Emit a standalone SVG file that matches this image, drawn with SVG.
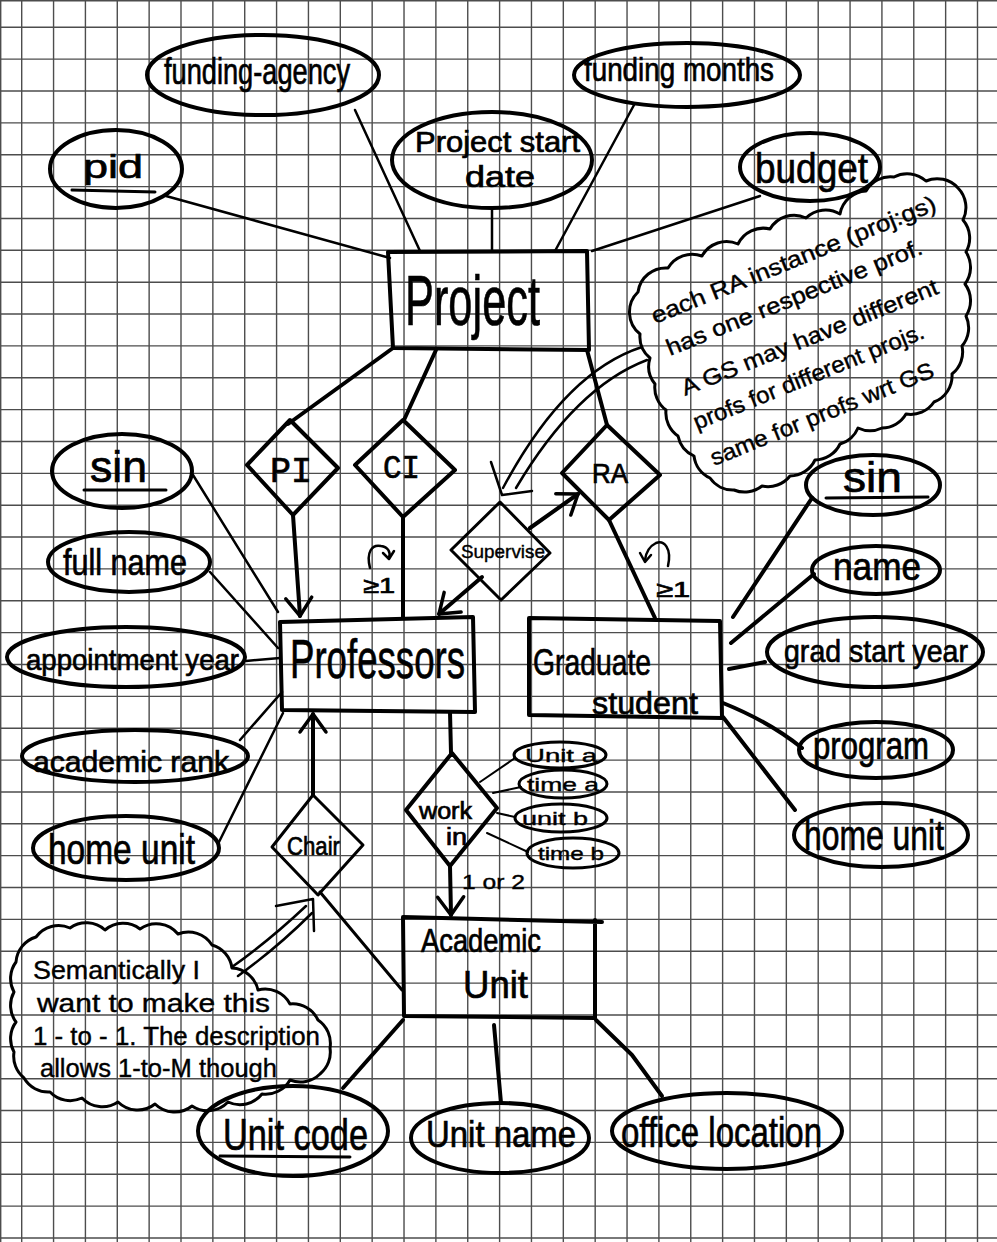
<svg xmlns="http://www.w3.org/2000/svg" width="997" height="1242" viewBox="0 0 997 1242">
<style>
.grid{stroke:#4d4d4d;stroke-width:1.4;fill:none}
.sh{fill:none;stroke:#000;stroke-width:4;stroke-linejoin:round;stroke-linecap:round}
.sm{fill:none;stroke:#000;stroke-width:3;stroke-linejoin:round;stroke-linecap:round}
.ln{fill:none;stroke:#000;stroke-width:4;stroke-linecap:round;stroke-linejoin:round}
.ln2{fill:none;stroke:#000;stroke-width:2.5;stroke-linecap:round;stroke-linejoin:round}
.ln1{fill:none;stroke:#000;stroke-width:2;stroke-linecap:round}
text{font-family:"Liberation Sans",Arial,sans-serif;fill:#000;stroke:#000;stroke-width:0.7}
.mono{font-family:"Liberation Mono","Courier New",monospace}
.thin{stroke-width:0.4}
</style>
<defs>
<marker id="arr" viewBox="-22 -16 26 32" refX="0" refY="0" markerWidth="26" markerHeight="32" markerUnits="userSpaceOnUse" orient="auto">
<path d="M-18,-13 L0,0 L-18,13" fill="none" stroke="#000" stroke-width="3.5" stroke-linecap="round" stroke-linejoin="round"/>
</marker>
</defs>
<rect width="997" height="1242" fill="#fff"/>
<g id="grid" class="grid">
<path d="M0.7 0V1242M21.7 0V1242M53.56 0V1242M85.42 0V1242M117.28 0V1242M149.14 0V1242M181 0V1242M212.86 0V1242M244.72 0V1242M276.58 0V1242M308.44 0V1242M340.3 0V1242M372.16 0V1242M404.02 0V1242M435.88 0V1242M467.74 0V1242M499.6 0V1242M531.46 0V1242M563.32 0V1242M595.18 0V1242M627.04 0V1242M658.9 0V1242M690.76 0V1242M722.62 0V1242M754.48 0V1242M786.34 0V1242M818.2 0V1242M850.06 0V1242M881.92 0V1242M913.78 0V1242M945.64 0V1242M977.5 0V1242"/>
<path d="M0 0.7H997M0 27.3H997M0 59.16H997M0 91.02H997M0 122.88H997M0 154.74H997M0 186.6H997M0 218.46H997M0 250.32H997M0 282.18H997M0 314.04H997M0 345.9H997M0 377.76H997M0 409.62H997M0 441.48H997M0 473.34H997M0 505.2H997M0 537.06H997M0 568.92H997M0 600.78H997M0 632.64H997M0 664.5H997M0 696.36H997M0 728.22H997M0 760.08H997M0 791.94H997M0 823.8H997M0 855.66H997M0 887.52H997M0 919.38H997M0 951.24H997M0 983.1H997M0 1014.96H997M0 1046.82H997M0 1078.68H997M0 1110.54H997M0 1142.4H997M0 1174.26H997M0 1206.12H997M0 1237.98H997"/>
</g>

<g id="connectors">
<path class="ln2" d="M166,196 L390,258"/>
<path class="ln2" d="M355,110 L420,251"/>
<path class="ln2" d="M492,208 L492,251"/>
<path class="ln2" d="M634,105 L555,251"/>
<path class="ln2" d="M760,196 L592,251"/>
<path class="ln" d="M393,348 L288,424"/>
<path class="ln" d="M436,350 L404,420"/>
<path class="ln" d="M587,350 L607,425"/>
<path class="ln" d="M293,515 L300,616" marker-end="url(#arr)"/>
<path class="ln" d="M403,517 L403,618"/>
<path class="ln" d="M609,520 L655,618"/>
<path class="ln" d="M530,528 L578,494" marker-end="url(#arr)"/>
<path class="ln" d="M482,577 L439,614" marker-end="url(#arr)"/>
<path class="ln2" d="M193,475 L278,612"/>
<path class="ln2" d="M210,572 L278,648"/>
<path class="ln2" d="M246,661 L280,658"/>
<path class="ln2" d="M240,740 L282,692"/>
<path class="ln2" d="M219,842 L283,713"/>
<path class="ln" d="M450,712 L451,753"/>
<path class="ln" d="M450,866 L451,915" marker-end="url(#arr)"/>
<path class="ln" d="M313,795 L313,714" marker-end="url(#arr)"/>
<path class="sm" d="M320,892 L402,990"/>
<path class="ln1" d="M480,782 L515,758"/>
<path class="ln1" d="M493,793 L521,787"/>
<path class="ln1" d="M497,813 L515,817"/>
<path class="ln1" d="M487,833 L528,852"/>
<path class="ln" d="M733,617 L812,498"/>
<path class="ln" d="M731,643 L814,574"/>
<path class="ln" d="M729,669 L765,662"/>
<path class="ln" d="M723,703 Q770,722 802,748"/>
<path class="ln" d="M723,717 L795,810"/>
<path class="ln" d="M403,1020 L343,1088"/>
<path class="ln" d="M494,1025 L501,1103"/>
<path class="ln" d="M596,1020 L632,1055 L662,1096"/>
<path class="ln2" d="M642,347 Q565,372 503,488"/>
<path class="ln2" d="M647,360 Q576,387 516,488"/>
<path class="ln2" d="M491,462 L502,495 L532,491"/>
<path class="ln2" d="M232,967 Q270,940 306,906"/>
<path class="ln2" d="M238,976 Q278,947 312,913"/>
<path class="ln2" d="M276,906 L313,899 L314,931"/>
</g>

<g id="project"><path class="sh" d="M388,252 L587,251 L589,350 L393,348 Z"/><text x="405" y="325" font-size="70" textLength="135" lengthAdjust="spacingAndGlyphs">Project</text></g>
<g id="professors"><path class="sh" d="M280,622 L473,617 L475,712 L282,710 Z"/><text x="290" y="678" font-size="56" textLength="175" lengthAdjust="spacingAndGlyphs">Professors</text></g>
<g id="graduate-student"><path class="sh" d="M529,618 L720,621 L722,718 L529,715 Z"/><text x="533" y="675" font-size="37" textLength="118" lengthAdjust="spacingAndGlyphs">Graduate</text><text x="592" y="714" font-size="32" textLength="106" lengthAdjust="spacingAndGlyphs">student</text></g>
<g id="academic-unit"><path class="sh" d="M403,917 L602,922 M595,920 L595,1018 L404,1016 L403,917"/><text x="421" y="952" font-size="34" textLength="120" lengthAdjust="spacingAndGlyphs">Academic</text><text x="463" y="998" font-size="39" textLength="65" lengthAdjust="spacingAndGlyphs">Unit</text></g>

<g id="attr-funding-agency"><ellipse class="sh" cx="263" cy="75" rx="116" ry="40"/><text x="164" y="84" font-size="36" textLength="186" lengthAdjust="spacingAndGlyphs">funding-agency</text></g>
<g id="attr-pid"><ellipse class="sh" cx="116" cy="169" rx="66" ry="39"/><text x="83" y="178" font-size="34" textLength="60" lengthAdjust="spacingAndGlyphs">pid</text><path class="sm" d="M72,190 L155,192"/></g>
<g id="attr-project-start-date"><ellipse class="sh" cx="492" cy="160" rx="100" ry="48"/><text x="415" y="152" font-size="29" textLength="165" lengthAdjust="spacingAndGlyphs">Project start</text><text x="465" y="187" font-size="29" textLength="70" lengthAdjust="spacingAndGlyphs">date</text></g>
<g id="attr-funding-months"><ellipse class="sh" cx="687" cy="75" rx="113" ry="32"/><text x="584" y="81" font-size="34" textLength="190" lengthAdjust="spacingAndGlyphs">funding months</text></g>
<g id="attr-budget"><ellipse class="sh" cx="810" cy="167" rx="70" ry="34"/><text x="755" y="183" font-size="42" textLength="113" lengthAdjust="spacingAndGlyphs">budget</text></g>

<g id="rel-pi"><path class="sh" d="M247,465 L290,420 L338,468 L293,515 Z"/><text class="mono" x="270" y="482" font-size="36" textLength="42" lengthAdjust="spacingAndGlyphs">PI</text></g>
<g id="rel-ci"><path class="sh" d="M355,465 L403,420 L455,470 L403,517 Z"/><text class="mono" x="383" y="478" font-size="34" textLength="37" lengthAdjust="spacingAndGlyphs">CI</text>
<path class="ln2" d="M370,568 C366,552 372,544 381,546 C388,547 391,552 389,558"/><path class="ln2" d="M383,553 L389,559 L394,551"/>
<text x="363" y="593" font-size="22" textLength="32" lengthAdjust="spacingAndGlyphs">≥1</text></g>
<g id="rel-ra"><path class="sh" d="M562,473 L607,425 L660,475 L609,520 Z"/><text x="592" y="483" font-size="28" textLength="36" lengthAdjust="spacingAndGlyphs">RA</text>
<path class="ln2" d="M668,566 C672,548 664,540 656,543 C650,546 646,552 645,560"/><path class="ln2" d="M640,553 L645,562 L651,555"/>
<text x="656" y="597" font-size="22" textLength="34" lengthAdjust="spacingAndGlyphs">≥1</text></g>
<g id="rel-supervise"><path class="sm" d="M451,550 L500,502 L550,553 L501,600 Z"/><text class="thin" x="461" y="558" font-size="19" textLength="84" lengthAdjust="spacingAndGlyphs">Supervise</text></g>
<g id="rel-chair"><path class="sm" d="M272,847 L313,795 L363,845 L318,895 Z"/><text x="287" y="855" font-size="26" textLength="53" lengthAdjust="spacingAndGlyphs">Chair</text></g>
<g id="rel-work-in"><path class="sh" d="M406,810 L452,753 L497,808 L450,866 Z"/><text x="419" y="819" font-size="23" textLength="53" lengthAdjust="spacingAndGlyphs">work</text><text x="446" y="845" font-size="23" textLength="21" lengthAdjust="spacingAndGlyphs">in</text>
<text class="thin" x="462" y="889" font-size="21" textLength="63" lengthAdjust="spacingAndGlyphs">1 or 2</text></g>

<g id="attr-prof-sin"><ellipse class="sh" cx="122" cy="471" rx="70" ry="37"/><text x="90" y="482" font-size="44" textLength="57" lengthAdjust="spacingAndGlyphs">sin</text><path class="sm" d="M84,490 L166,490"/></g>
<g id="attr-full-name"><ellipse class="sh" cx="129" cy="562" rx="81" ry="30"/><text x="63" y="575" font-size="36" textLength="124" lengthAdjust="spacingAndGlyphs">full name</text></g>
<g id="attr-appointment-year"><ellipse class="sh" cx="126" cy="657" rx="119" ry="30"/><text x="26" y="670" font-size="29" textLength="213" lengthAdjust="spacingAndGlyphs">appointment year</text></g>
<g id="attr-academic-rank"><ellipse class="sh" cx="135" cy="756" rx="113" ry="26"/><text x="33" y="772" font-size="30" textLength="196" lengthAdjust="spacingAndGlyphs">academic rank</text></g>
<g id="attr-prof-home-unit"><ellipse class="sh" cx="126" cy="848" rx="93" ry="32"/><text x="48" y="864" font-size="42" textLength="147" lengthAdjust="spacingAndGlyphs">home unit</text></g>

<g id="attr-gs-sin"><ellipse class="sh" cx="873" cy="485" rx="67" ry="30"/><text x="843" y="492" font-size="42" textLength="59" lengthAdjust="spacingAndGlyphs">sin</text><path class="sm" d="M826,498 L928,497"/></g>
<g id="attr-name"><ellipse class="sh" cx="876" cy="570" rx="64" ry="24"/><text x="833" y="580" font-size="38" textLength="88" lengthAdjust="spacingAndGlyphs">name</text></g>
<g id="attr-grad-start-year"><ellipse class="sh" cx="875" cy="652" rx="108" ry="35"/><text x="784" y="662" font-size="32" textLength="184" lengthAdjust="spacingAndGlyphs">grad start year</text></g>
<g id="attr-program"><ellipse class="sh" cx="876" cy="750" rx="77" ry="28"/><text x="813" y="759" font-size="38" textLength="116" lengthAdjust="spacingAndGlyphs">program</text></g>
<g id="attr-gs-home-unit"><ellipse class="sh" cx="881" cy="835" rx="87" ry="32"/><text x="804" y="850" font-size="42" textLength="140" lengthAdjust="spacingAndGlyphs">home unit</text></g>

<g id="attr-unit-a"><ellipse class="sm" cx="560" cy="755" rx="46" ry="13"/><text class="thin" x="525" y="762" font-size="19" textLength="72" lengthAdjust="spacingAndGlyphs">Unit a</text></g>
<g id="attr-time-a"><ellipse class="sm" cx="563" cy="784" rx="44" ry="14"/><text class="thin" x="527" y="791" font-size="19" textLength="72" lengthAdjust="spacingAndGlyphs">time a</text></g>
<g id="attr-unit-b"><ellipse class="sm" cx="561" cy="818" rx="46" ry="14"/><text class="thin" x="522" y="825" font-size="19" textLength="66" lengthAdjust="spacingAndGlyphs">unit b</text></g>
<g id="attr-time-b"><ellipse class="sm" cx="573" cy="853" rx="46" ry="15"/><text class="thin" x="538" y="860" font-size="19" textLength="66" lengthAdjust="spacingAndGlyphs">time b</text></g>

<g id="attr-unit-code"><ellipse class="sh" cx="293" cy="1131" rx="95" ry="45"/><text x="223" y="1150" font-size="44" textLength="145" lengthAdjust="spacingAndGlyphs">Unit code</text><path class="sm" d="M220,1156 L350,1157"/></g>
<g id="attr-unit-name"><ellipse class="sh" cx="500" cy="1138" rx="89" ry="35"/><text x="426" y="1147" font-size="37" textLength="150" lengthAdjust="spacingAndGlyphs">Unit name</text></g>
<g id="attr-office-location"><ellipse class="sh" cx="727" cy="1131" rx="115" ry="38"/><text x="621" y="1147" font-size="42" textLength="201" lengthAdjust="spacingAndGlyphs">office location</text></g>

<g id="note-ra">
<path class="sm" d="M638,292 A28,28 0 0 1 668,268 A28,28 0 0 1 702,256 A28,28 0 0 1 738,244 A28,28 0 0 1 770,229 A28,28 0 0 1 806,218 A28,28 0 0 1 840,214 A28,28 0 0 1 866,191 A28,28 0 0 1 894,177 A28,28 0 0 1 926,181 A28,28 0 0 1 958,188 A28,28 0 0 1 963,220 A28,28 0 0 1 966,252 A28,28 0 0 1 965,284 A28,28 0 0 1 966,316 A28,28 0 0 1 962,346 A28,28 0 0 1 952,374 A28,28 0 0 1 934,402 A28,28 0 0 1 906,414 A28,28 0 0 1 882,428 A28,28 0 0 1 858,428 A28,28 0 0 1 840,444 A28,28 0 0 1 815,460 A28,28 0 0 1 790,476 A28,28 0 0 1 762,486 A28,28 0 0 1 734,490 A28,28 0 0 1 710,478 A28,28 0 0 1 694,456 A28,28 0 0 1 678,436 A28,28 0 0 1 666,410 A28,28 0 0 1 655,384 A28,28 0 0 1 650,358 A28,28 0 0 1 640,334 A28,28 0 0 1 638,292 Z"/>
<text class="thin" x="655" y="324" font-size="23" transform="rotate(-22 655 324)" textLength="305" lengthAdjust="spacingAndGlyphs">each RA instance (proj:gs)</text>
<text class="thin" x="670" y="356" font-size="23" transform="rotate(-22 670 356)" textLength="274" lengthAdjust="spacingAndGlyphs">has one respective prof.</text>
<text class="thin" x="685" y="396" font-size="23" transform="rotate(-22 685 396)" textLength="275" lengthAdjust="spacingAndGlyphs">A GS may have different</text>
<text class="thin" x="697" y="430" font-size="23" transform="rotate(-22 697 430)" textLength="247" lengthAdjust="spacingAndGlyphs">profs for different projs.</text>
<text class="thin" x="714" y="466" font-size="23" transform="rotate(-22 714 466)" textLength="239" lengthAdjust="spacingAndGlyphs">same for profs wrt GS</text>
</g>

<g id="note-chair">
<path class="sm" d="M16,962 A28,28 0 0 1 36,937 A28,28 0 0 1 70,928 A28,28 0 0 1 105,930 A28,28 0 0 1 140,929 A28,28 0 0 1 178,934 A28,28 0 0 1 212,945 A28,28 0 0 1 232,968 A28,28 0 0 1 258,990 A28,28 0 0 1 290,1004 A28,28 0 0 1 318,1020 A28,28 0 0 1 330,1048 A28,28 0 0 1 320,1074 A28,28 0 0 1 290,1080 A28,28 0 0 1 262,1094 A28,28 0 0 1 228,1102 A28,28 0 0 1 192,1106 A28,28 0 0 1 155,1104 A28,28 0 0 1 118,1102 A28,28 0 0 1 82,1098 A28,28 0 0 1 50,1092 A28,28 0 0 1 24,1078 A28,28 0 0 1 14,1052 A28,28 0 0 1 16,1022 A28,28 0 0 1 14,992 A28,28 0 0 1 16,962 Z"/>
<text class="thin" x="33" y="979" font-size="25" textLength="167" lengthAdjust="spacingAndGlyphs">Semantically I</text>
<text class="thin" x="37" y="1012" font-size="25" textLength="233" lengthAdjust="spacingAndGlyphs">want to make this</text>
<text class="thin" x="33" y="1045" font-size="25" textLength="287" lengthAdjust="spacingAndGlyphs">1 - to - 1. The description</text>
<text class="thin" x="40" y="1077" font-size="25" textLength="237" lengthAdjust="spacingAndGlyphs">allows 1-to-M though</text>
</g>
</svg>
